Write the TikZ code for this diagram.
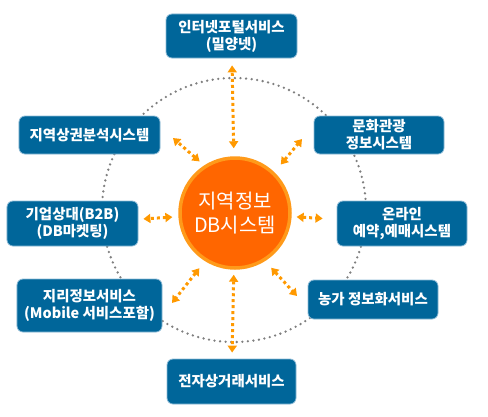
\documentclass[tikz,border=0pt]{standalone}
\usepackage{fontspec}
\setmainfont{Noto Sans CJK KR}
\usepackage{xcolor}
\usetikzlibrary{arrows.meta}
\definecolor{rblue}{HTML}{00669A}
\definecolor{rblueedge}{HTML}{8DBBD6}
\definecolor{rorange}{HTML}{FF6600}
\definecolor{rring}{HTML}{FF9A1A}
\definecolor{rlink}{HTML}{FF9900}
\definecolor{rdots}{HTML}{7F7F7F}

\begin{document}
\begin{tikzpicture}[x=1bp, y=1bp,
  svcbox/.style={draw=rblueedge, line width=0.8pt, fill=rblue, rounded corners=6pt,
    text=white, align=center, font=\fontsize{14.5}{17}\selectfont\bfseries, inner sep=0pt},
  hubnode/.style={circle, draw=rring, line width=3.5pt, fill=rorange, minimum size=110bp,
    text=white, align=center, font=\fontsize{20}{25}\selectfont, inner sep=0pt},
  link/.style={draw=rlink, line width=3pt, dash pattern=on 3pt off 3pt,
    {Triangle[length=7bp,width=9bp]}-{Triangle[length=7bp,width=9bp]}}]
\useasboundingbox (0,0) rectangle (488,416);
% ring of dots behind everything
\draw[rdots, line width=2.6pt, line cap=round, dash pattern=on 0pt off 5.6pt] (234,206) circle (132);
% centre
\node[hubnode] (hub) at (235,203) {지역정보\\DB시스템};
% services
\node[svcbox, minimum width=131bp, minimum height=44bp] (portal) at (231.5,380) {인터넷포털서비스\\(밀양넷)};
\node[svcbox, minimum width=141bp, minimum height=38bp] (trade) at (89.5,281) {지역상권분석시스템};
\node[svcbox, minimum width=131bp, minimum height=45bp] (btob) at (72.5,192.5) {기업상대(B2B)\\(DB마켓팅)};
\node[svcbox, minimum width=130bp, minimum height=38bp] (culture) at (379,281) {문화관광\\정보시스템};
\node[svcbox, minimum width=130bp, minimum height=45bp] (booking) at (402,192.5) {온라인\\예약,예매시스템};
\node[svcbox, minimum width=145bp, minimum height=53bp] (gis) at (89.5,110.5) {지리정보서비스\\(Mobile 서비스포함)};
\node[svcbox, minimum width=130bp, minimum height=39bp] (farm) at (373,116.5) {농가 정보화서비스};
\node[svcbox, minimum width=129bp, minimum height=45bp] (ecom) at (231.5,34.5) {전자상거래서비스};
% free ends of the slanted links
\coordinate (tradeEnd) at (173,278);
\coordinate (cultureEnd) at (302,277);
\coordinate (gisEnd) at (172,113);
\coordinate (farmEnd) at (297,120);
% links
\draw[link, shorten <=8bp, shorten >=7bp] (hub) -- (portal);
\draw[link, shorten <=5bp, shorten >=6bp] (hub) -- (ecom);
\draw[link, shorten <=6bp, shorten >=5bp] (hub) -- (btob);
\draw[link, shorten <=5bp, shorten >=14bp] (hub) -- (booking);
\draw[link, shorten <=6bp] (hub.123) -- (tradeEnd);
\draw[link, shorten <=10bp] (hub.46) -- (cultureEnd);
\draw[link, shorten <=9bp] (hub.238) -- (gisEnd);
\draw[link, shorten <=9bp] (hub.302) -- (farmEnd);
\end{tikzpicture}
\end{document}
